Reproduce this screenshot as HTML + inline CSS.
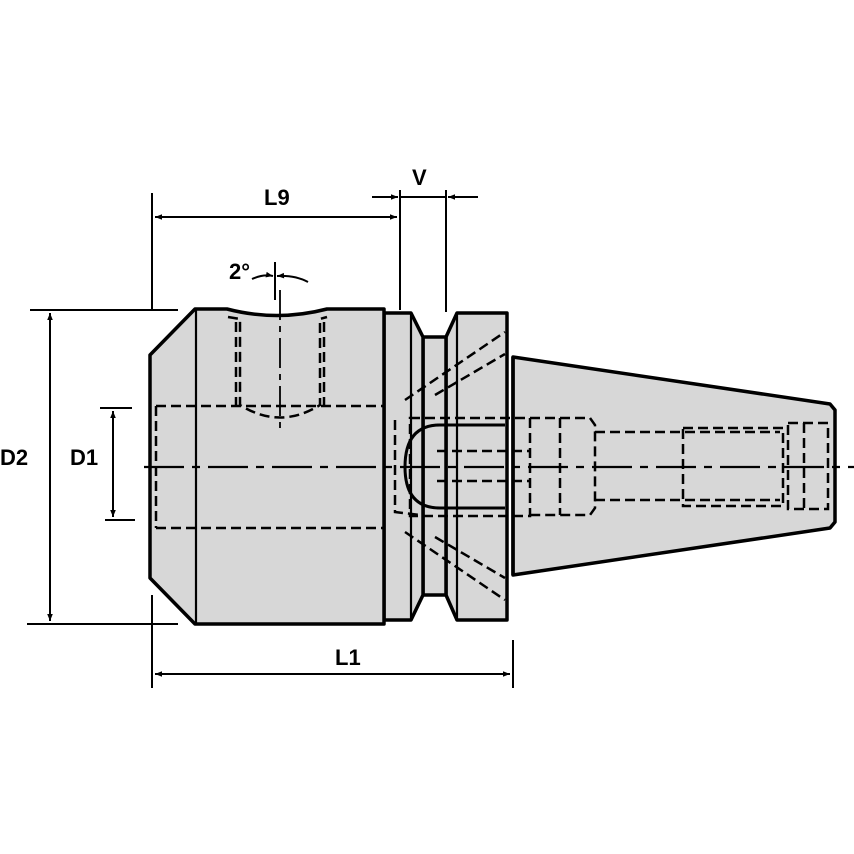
<!DOCTYPE html>
<html><head><meta charset="utf-8"><style>
html,body{margin:0;padding:0;background:#fff;}
svg{display:block}
text{font-family:"Liberation Sans",sans-serif;font-weight:bold;font-size:22px;fill:#000}
</style></head><body>
<svg width="854" height="854" viewBox="0 0 854 854" xmlns="http://www.w3.org/2000/svg">
<defs>
<marker id="a" viewBox="0 0 10 10" refX="10" refY="5" markerWidth="13" markerHeight="7" orient="auto-start-reverse" markerUnits="userSpaceOnUse"><path d="M0,1 L10,5 L0,9 z" fill="#000"/></marker>
</defs>
<g stroke="#000" stroke-width="3.5" fill="#d7d7d7" stroke-linejoin="round">
<path d="M513,357 L830,404 L835,410 L835,522 L830,528 L513,575 Z"/>
<path d="M446,337 L457,313 L507,313 L507,620 L457,620 L446,595 Z"/>
<rect x="423" y="337" width="23" height="258"/>
<path d="M384,313 L411,313 L423,337 L423,595 L411,620 L384,620 Z"/>
<path d="M195,309 L227,309 Q277,322 327,309 L384,309 L384,624 L195,624 L150,578 L150,355 Z"/>
</g>
<g stroke="#000" stroke-width="2.2" fill="none">
<line x1="196" y1="309" x2="196" y2="624"/>
<line x1="411" y1="313" x2="411" y2="620"/>
<line x1="457" y1="313" x2="457" y2="620"/>
<line x1="513" y1="357" x2="513" y2="575" stroke-width="3.5"/>
</g>
<g stroke="#000" stroke-width="2.5" fill="none" stroke-dasharray="10,5">
<line x1="156" y1="406" x2="384" y2="406"/>
<line x1="156" y1="528" x2="384" y2="528"/>
<line x1="156" y1="406" x2="156" y2="528"/>
<path d="M228,317 L240,319 L240,405 Q280,430 320,405 L320,319 L327,317"/>
<line x1="236" y1="322" x2="236" y2="405"/>
<line x1="324" y1="322" x2="324" y2="405"/>
<line x1="405" y1="400" x2="505" y2="332"/>
<line x1="435" y1="395" x2="505" y2="354"/>
<line x1="405" y1="532" x2="505" y2="600"/>
<line x1="435" y1="537" x2="505" y2="578"/>
<path d="M395,420 L395,512 L420,515"/>
<rect x="410" y="418" width="120" height="98"/>
<path d="M437,425 L505,425 M437,508 L505,508"/>
<line x1="437" y1="451" x2="530" y2="451"/>
<line x1="437" y1="481" x2="530" y2="481"/>
<path d="M530,418 L590,418 L595,425 L595,508 L590,515 L530,515"/>
<line x1="560" y1="418" x2="560" y2="515"/>
<path d="M595,432 L780,432 M595,500 L780,500"/>
<rect x="683" y="428" width="100" height="78"/>
<rect x="788" y="423" width="40" height="86"/>
<line x1="804" y1="423" x2="804" y2="509"/>
</g>
<path d="M440,425 Q405,425 405,467 Q405,508 440,508" stroke="#000" stroke-width="3" fill="none"/>
<line x1="440" y1="425" x2="505" y2="425" stroke="#000" stroke-width="3"/>
<line x1="440" y1="508" x2="505" y2="508" stroke="#000" stroke-width="3"/>
<line x1="144" y1="467" x2="854" y2="467" stroke="#000" stroke-width="2.2" stroke-dasharray="40,8,8,8"/>
<line x1="280" y1="290" x2="280" y2="430" stroke="#000" stroke-width="1.8" stroke-dasharray="30,6,6,6"/>
<g stroke="#000" stroke-width="2" fill="none">
<line x1="152" y1="193" x2="152" y2="310"/>
<line x1="152" y1="595" x2="152" y2="688"/>
<line x1="400" y1="190" x2="400" y2="310"/>
<line x1="446" y1="190" x2="446" y2="312"/>
<line x1="513" y1="640" x2="513" y2="688"/>
<line x1="155" y1="217" x2="397" y2="217" marker-start="url(#a)" marker-end="url(#a)"/>
<line x1="372" y1="197" x2="398" y2="197" marker-end="url(#a)"/>
<line x1="478" y1="197" x2="448" y2="197" marker-end="url(#a)"/>
<line x1="400" y1="197" x2="446" y2="197"/>
<line x1="155" y1="674" x2="510" y2="674" marker-start="url(#a)" marker-end="url(#a)"/>
<line x1="30" y1="310" x2="178" y2="310"/>
<line x1="27" y1="624" x2="178" y2="624"/>
<line x1="50" y1="313" x2="50" y2="621" marker-start="url(#a)" marker-end="url(#a)"/>
<line x1="100" y1="408" x2="132" y2="408"/>
<line x1="105" y1="520" x2="135" y2="520"/>
<line x1="113" y1="411" x2="113" y2="517" marker-start="url(#a)" marker-end="url(#a)"/>
<line x1="275" y1="262" x2="275" y2="300"/>
<path d="M252,279 Q263,274 273,276" marker-end="url(#a)"/>
<path d="M308,282 Q295,275 277,276" marker-end="url(#a)"/>
</g>
<text x="264" y="205">L9</text>
<text x="412" y="185">V</text>
<text x="229" y="279">2°</text>
<text x="0" y="465">D2</text>
<text x="70" y="465">D1</text>
<text x="335" y="665">L1</text>
</svg>
</body></html>
